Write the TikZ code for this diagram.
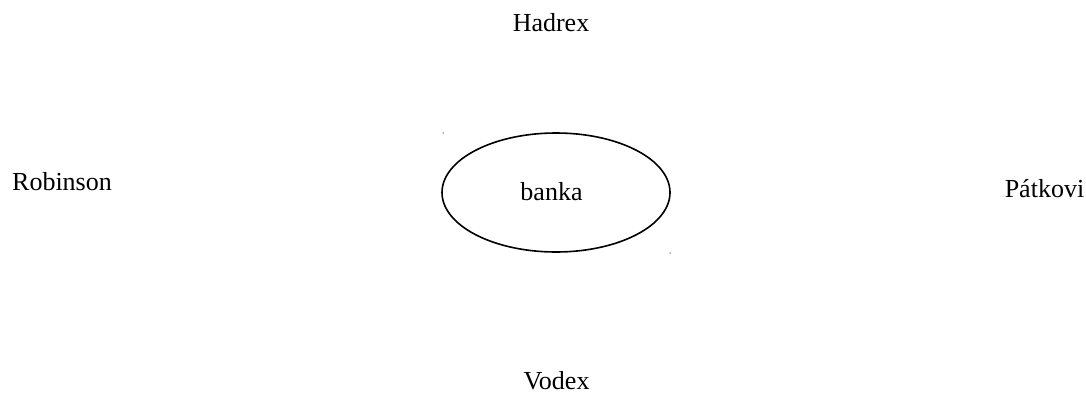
\documentclass[tikz,border=0pt]{standalone}
\usepackage{fontspec}
\setmainfont{Liberation Serif}
\usetikzlibrary{shapes.geometric}
\begin{document}
\begin{tikzpicture}[x=1pt,y=-1pt,
  lbl/.style={font=\fontsize{26}{30}\selectfont, inner sep=0pt, anchor=base},
  bankshape/.style={draw=black, line width=1.6pt, ellipse, inner sep=0pt, minimum width=228pt, minimum height=119pt},
  speck/.style={fill=black!60, draw=none, circle, inner sep=0pt, minimum size=1.5pt}]
\useasboundingbox (0,0) rectangle (1086,396);
\node[bankshape] (bank) at (556,192.5) {};
\node[lbl] (bankalabel) at (551.5,200) {banka};
\node[lbl] (hadrex) at (551,32) {Hadrex};
\node[lbl] (robinson) at (62,190) {Robinson};
\node[lbl] (patkovi) at (1044.5,197) {Pátkovi};
\node[lbl] (vodex) at (556.5,389) {Vodex};
\node[speck] (dot1) at (443,133) {};
\node[speck] (dot2) at (670,253) {};
\end{tikzpicture}
\end{document}
